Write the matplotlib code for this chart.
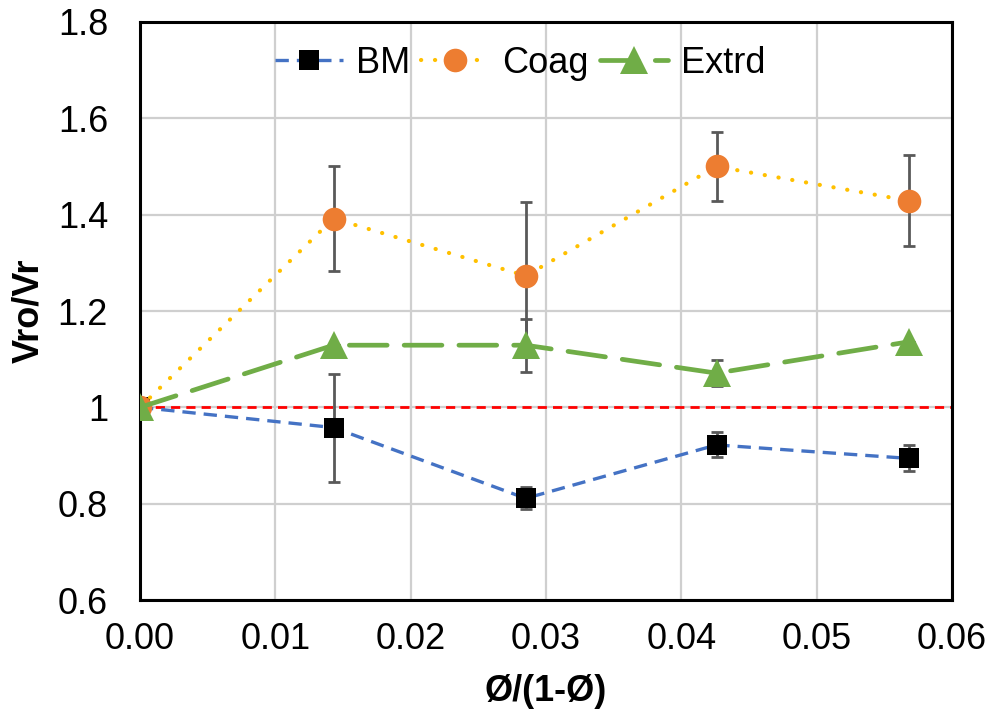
import matplotlib.pyplot as plt

plt.rcParams['font.family'] = ['Liberation Sans', 'DejaVu Sans']

# data
phi_ratio = [0.0, 0.0143, 0.0285, 0.0426, 0.0568]
bm = [1.0, 0.958, 0.811, 0.922, 0.894]
bm_err = [0.0, 0.112, 0.023, 0.026, 0.027]
coag = [1.0, 1.392, 1.273, 1.500, 1.429]
coag_err = [0.0, 0.108, 0.154, 0.072, 0.095]
extrd = [1.0, 1.129, 1.129, 1.071, 1.136]
extrd_err = [0.0, 0.0, 0.055, 0.027, 0.0]

xticks = [0.00, 0.01, 0.02, 0.03, 0.04, 0.05, 0.06]
yticks = [0.6, 0.8, 1.0, 1.2, 1.4, 1.6, 1.8]
ytick_labels = ["0.6", "0.8", "1", "1.2", "1.4", "1.6", "1.8"]

fs = 26
fig = plt.figure(figsize=(9.9, 7.21), dpi=100)
ax = fig.add_axes([0.1414, 0.1678, 0.8202, 0.8017])

ax.set_xlim(0, 0.06)
ax.set_ylim(0.6, 1.8)
ax.set_xticks(xticks)
ax.set_xticklabels([f"{t:.2f}" for t in xticks])
ax.set_yticks(yticks)
ax.set_yticklabels(ytick_labels)
ax.tick_params(length=0, labelsize=fs)
ax.tick_params(axis='y', pad=23)
ax.tick_params(axis='x', pad=16)
ax.grid(True, color='#CFCFCF', lw=1.6, zorder=0)
ax.set_axisbelow(True)
for s in ax.spines.values():
    s.set_linewidth(2.2)
    s.set_color('black')

# reference line at 1
ax.axhline(1.0, color='#FF0000', lw=2, ls=(0, (3.3, 2.2)), zorder=2)

# lines
ax.plot(phi_ratio, bm, color='#4472C4', lw=2.4, ls=(0, (4.0, 2.4)),
        marker='s', ms=14.5, mfc='black', mec='black', mew=0, label='BM', zorder=3)
ax.plot(phi_ratio, coag, color='#FFC000', lw=3, ls=(0, (0.05, 3.3)),
        dash_capstyle='round', marker='o', ms=17, mfc='#ED7D31', mec='#ED7D31',
        mew=0, label='Coag', zorder=3)
ax.plot(phi_ratio, extrd, color='#70AD47', lw=3.4, ls=(0, (8, 3.6)),
        dash_capstyle='round', marker='^', ms=19.5, mfc='#70AD47', mec='#70AD47',
        mew=0, label='Extrd', zorder=4)

# error bars
for y, e in [(bm, bm_err), (coag, coag_err), (extrd, extrd_err)]:
    ax.errorbar(phi_ratio, y, yerr=e, fmt='none', ecolor='#595959',
                elinewidth=2, capsize=4.5, capthick=2, zorder=2.5)

ax.set_xlabel("Ø/(1-Ø)", fontsize=fs, fontweight='bold', labelpad=12)
ax.set_ylabel("Vro/Vr", fontsize=fs, fontweight='bold', labelpad=8)

ax.legend(loc='center', bbox_to_anchor=(0.468, 0.929), ncol=3, frameon=False,
          fontsize=fs, handlelength=1.9, handletextpad=0.35, columnspacing=0.3,
          borderpad=0.2)

fig.savefig('out.png', dpi=100)
